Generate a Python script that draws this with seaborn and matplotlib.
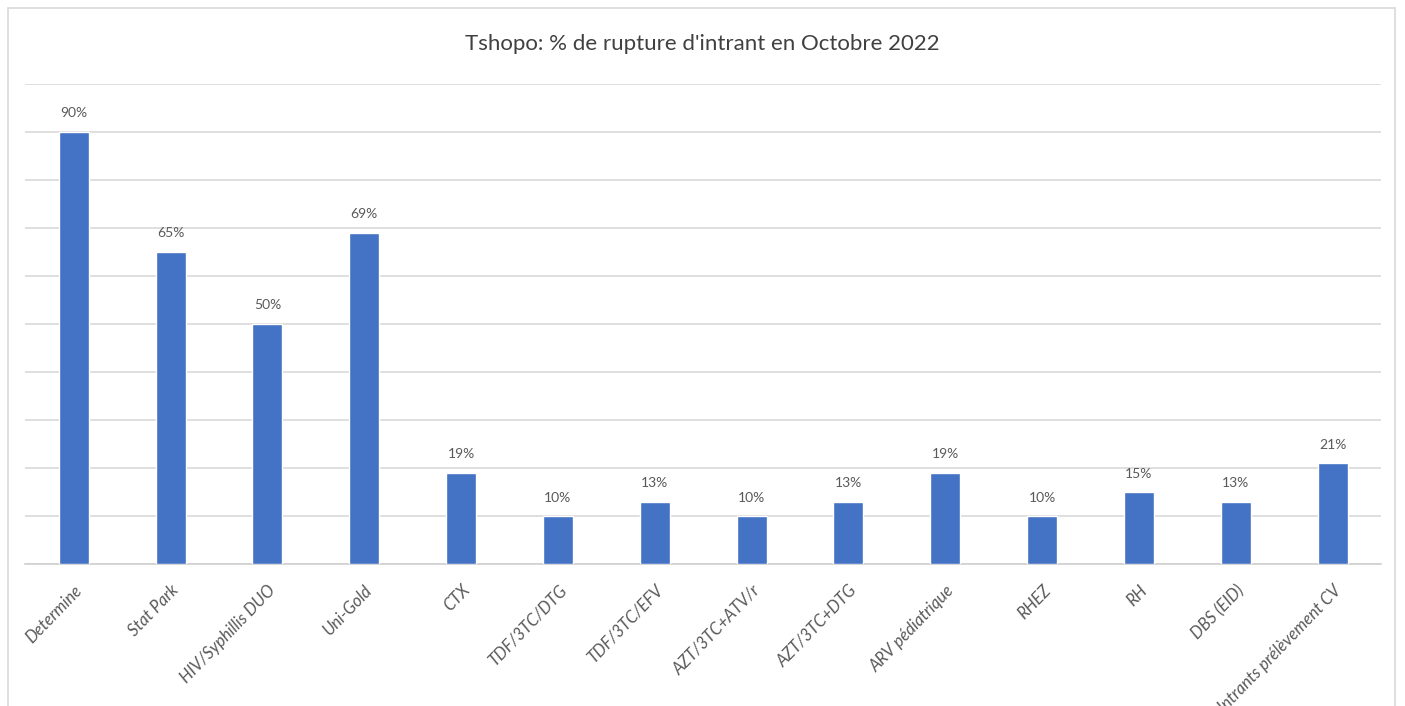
import matplotlib
matplotlib.use("Agg")
import matplotlib.pyplot as plt
import seaborn as sns
import pandas as pd
from matplotlib.patches import Rectangle

categories = ["Determine", "Stat Park", "HIV/Syphillis DUO", "Uni-Gold", "CTX",
              "TDF/3TC/DTG", "TDF/3TC/EFV", "AZT/3TC+ATV/r", "AZT/3TC+DTG",
              "ARV pédiatrique", "RHEZ", "RH", "DBS (EID)", "Intrants prélèvement CV"]
values = [90, 65, 50, 69, 19, 10, 13, 10, 13, 19, 10, 15, 13, 21]
title = "Tshopo: % de rupture d'intrant en Octobre 2022"

sns.set_theme(style="white")
plt.rcParams['font.family'] = ['Lato', 'DejaVu Sans']

df = pd.DataFrame({"cat": categories, "val": values})

fig = plt.figure(figsize=(14.05, 7.06), dpi=100)
ax = fig.add_axes([0.018, 0.2011, 0.965, 0.68])

# chart border
fig.patches.append(Rectangle((8/1405, -0.05), (1395-8)/1405, 1.05 - 8/706,
                             transform=fig.transFigure, fill=False,
                             edgecolor="#d9d9d9", linewidth=1.2, zorder=0))

sns.barplot(data=df, x="cat", y="val", color="#4472C4", saturation=1,
            width=0.31, ax=ax, zorder=3)

ax.set_ylim(0, 100)
ax.set_xlim(-0.5, len(categories) - 0.5)
ax.set_yticks(range(0, 101, 10))
ax.set_yticklabels([])
ax.tick_params(axis="y", length=0)
ax.yaxis.grid(True, color="#d9d9d9", linewidth=1.2)
ax.set_axisbelow(True)
for s in ["top", "right", "left"]:
    ax.spines[s].set_visible(False)
ax.spines["bottom"].set_color("#d0d0d0")
ax.spines["bottom"].set_linewidth(1.2)
ax.set_xlabel("")
ax.set_ylabel("")

ax.tick_params(axis="x", length=0, pad=13)
for lab in ax.get_xticklabels():
    lab.set_rotation(46)
    lab.set_ha("right")
    lab.set_rotation_mode("anchor")
    lab.set_fontsize(12)
    lab.set_color("#595959")
    lab.set_style("italic")

for i, v in enumerate(values):
    ax.annotate(f"{v}%", (i, v), xytext=(0, 9), textcoords="offset points",
                ha="center", va="bottom", fontsize=10, color="#595959")

fig.text(0.5, 1 - 44/706, title, ha="center", va="center", fontsize=16,
         color="#404040")

fig.savefig("out.png", dpi=100)
